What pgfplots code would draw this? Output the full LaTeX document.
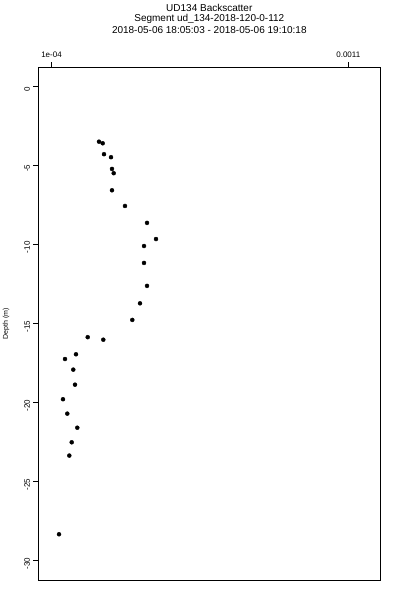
\documentclass[border=0pt]{standalone}
\usepackage{fontspec}
\setmainfont{Liberation Sans}
\usepackage{pgfplots}
\pgfplotsset{compat=1.18}
\begin{document}
\begin{tikzpicture}
\path[use as bounding box] (0,0) rectangle (400bp,600bp);
\begin{axis}[
  at={(38.5bp,20bp)}, anchor=south west,
  scale only axis, width=341.5bp, height=512.7bp,
  xmin=0.0000562, xmax=0.0012068, ymin=-31.21, ymax=1.18,
  axis line style={line width=0.8bp},
  tick style={line width=0.8bp, black},
  tick align=outside, major tick length=5bp,
  xtick pos=right, xticklabel pos=right,
  ytick pos=left,
  scaled x ticks=false,
  xtick={0.0001,0.0011}, xticklabels={1e-04,0.0011},
  ytick={0,-5,-10,-15,-20,-25,-30},
  yticklabels={0,-5,-10,-15,-20,-25,-30},
  /pgf/number format/assume math mode=true,
  ticklabel style={font=\fontsize{8bp}{9bp}\selectfont},
  yticklabel style={rotate=90, anchor=south, xshift=-3bp},
  xticklabel style={yshift=1bp},
]
\addplot[only marks, mark=*, mark size=2bp, black] coordinates {
(0.0002600,-3.52) (0.0002725,-3.62) (0.0002769,-4.31) (0.0003005,-4.50)
(0.0003038,-5.24) (0.0003096,-5.51) (0.0003038,-6.59) (0.0003476,-7.58)
(0.0004218,-8.65) (0.0004521,-9.67) (0.0004117,-10.11) (0.0004117,-11.18)
(0.0004218,-12.63) (0.0003982,-13.73) (0.0003722,-14.78) (0.0002220,-15.87)
(0.0002745,-16.03) (0.0001825,-16.95) (0.0001455,-17.25) (0.0001734,-17.92)
(0.0001792,-18.87) (0.0001387,-19.79) (0.0001532,-20.70) (0.0001869,-21.59)
(0.0001681,-22.51) (0.0001600,-23.35) (0.0001253,-28.32)
};
\end{axis}
\node[font=\fontsize{10bp}{11bp}\selectfont] at (209.3bp,592bp) {UD134 Backscatter};
\node[font=\fontsize{10bp}{11bp}\selectfont] at (209.3bp,581bp) {Segment ud\_134-2018-120-0-112};
\node[font=\fontsize{10bp}{11bp}\selectfont] at (209.3bp,570bp) {2018-05-06 18:05:03 - 2018-05-06 19:10:18};
\node[font=\fontsize{7bp}{8bp}\selectfont, rotate=90] at (6bp,276bp) {Depth (m)};
\end{tikzpicture}
\end{document}
